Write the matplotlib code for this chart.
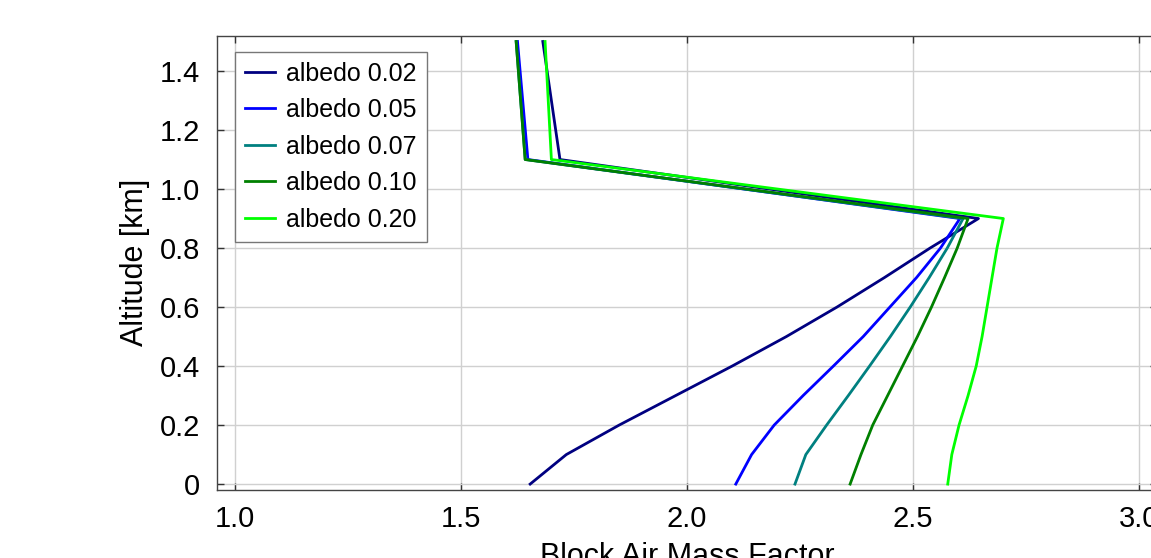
import matplotlib
matplotlib.use('Agg')
import matplotlib.pyplot as plt

plt.rcParams['font.family'] = ['Liberation Sans', 'DejaVu Sans']

# altitude grid [km] and block AMF per surface albedo
altitude = [0.0, 0.1, 0.2, 0.3, 0.4, 0.5, 0.6, 0.7, 0.8, 0.9, 1.1, 1.5]
amf_002 = [1.653, 1.733, 1.850, 1.975, 2.100, 2.220, 2.332, 2.437, 2.538, 2.645, 1.719, 1.681]
amf_005 = [2.108, 2.143, 2.193, 2.257, 2.324, 2.390, 2.449, 2.508, 2.561, 2.604, 1.648, 1.625]
amf_007 = [2.239, 2.263, 2.309, 2.357, 2.404, 2.450, 2.494, 2.536, 2.576, 2.611, 1.642, 1.622]
amf_010 = [2.361, 2.385, 2.411, 2.444, 2.477, 2.510, 2.541, 2.570, 2.598, 2.622, 1.642, 1.622]
amf_020 = [2.577, 2.586, 2.602, 2.622, 2.640, 2.653, 2.664, 2.675, 2.686, 2.700, 1.700, 1.686]

labels = ['albedo 0.02', 'albedo 0.05', 'albedo 0.07', 'albedo 0.10', 'albedo 0.20']
colors = ['#000080', '#0000ff', '#008080', '#008000', '#00ff00']
x_ticks = [1.0, 1.5, 2.0, 2.5, 3.0]
y_ticks = [0, 0.2, 0.4, 0.6, 0.8, 1.0, 1.2, 1.4]
y_ticklabels = ['0', '0.2', '0.4', '0.6', '0.8', '1.0', '1.2', '1.4']


def main():
    fig = plt.figure(figsize=(11.51, 5.58), dpi=100)
    ax = fig.add_axes([0.1885, 0.1219, 0.8167, 0.8143])

    series = [amf_002, amf_005, amf_007, amf_010, amf_020]
    for vals, lab, col in zip(series, labels, colors):
        ax.plot(vals, altitude, color=col, lw=2.0, label=lab)

    ax.set_xlim(0.96, 3.04)
    ax.set_ylim(-0.02, 1.52)
    ax.set_xticks(x_ticks)
    ax.set_xticklabels([f'{t:.1f}' for t in x_ticks])
    ax.set_yticks(y_ticks)
    ax.set_yticklabels(y_ticklabels)

    ax.grid(True, color='#d0d0d0', lw=1.0)
    ax.set_axisbelow(True)
    ax.tick_params(direction='in', top=True, right=True, length=5,
                   width=1, labelsize=21, color='#333333')
    ax.tick_params(axis='y', pad=12)
    ax.tick_params(axis='x', pad=11)
    for sp in ax.spines.values():
        sp.set_color('#444444')
        sp.set_linewidth(1.0)

    ax.set_xlabel('Block Air Mass Factor', fontsize=22, labelpad=6)
    ax.set_ylabel('Altitude [km]', fontsize=22, labelpad=7)

    leg = ax.legend(loc='upper left', bbox_to_anchor=(0.019, 0.965),
                    borderaxespad=0, fontsize=18, fancybox=False,
                    framealpha=1, edgecolor='#777777', handlelength=1.2,
                    handletextpad=0.45, labelspacing=0.5)
    leg.get_frame().set_linewidth(1.0)

    fig.savefig('out.png', dpi=100)
    plt.close(fig)


if __name__ == '__main__':
    main()
